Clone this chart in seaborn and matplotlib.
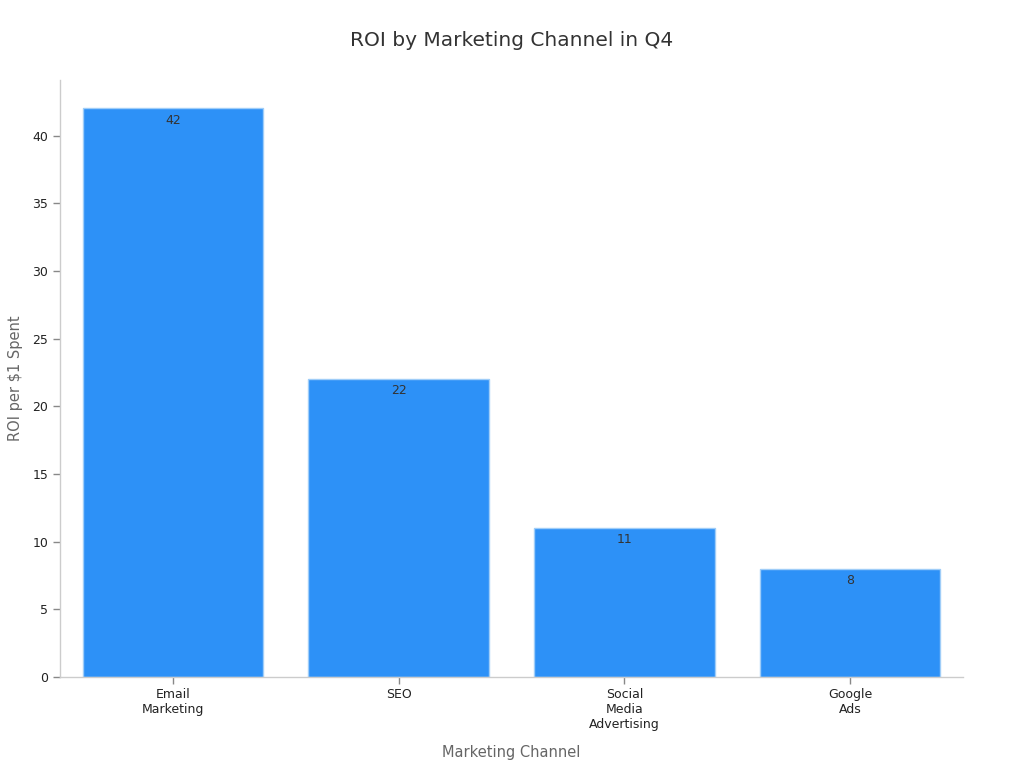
import matplotlib
matplotlib.use("Agg")
import matplotlib.pyplot as plt
import seaborn as sns
import pandas as pd

# Chart data
channels = ["Email\nMarketing", "SEO", "Social\nMedia\nAdvertising", "Google\nAds"]
roi_values = [42, 22, 11, 8]

df = pd.DataFrame({"channel": channels, "roi": roi_values})

sns.set_style("white")
plt.rcParams["font.family"] = ["DejaVu Sans"]

fig = plt.figure(figsize=(10.24, 7.68), dpi=100)
ax = fig.add_axes([0.0586, 0.1185, 0.8818, 0.7773])

sns.barplot(data=df, x="channel", y="roi", color="#2d91f7", saturation=1,
            width=0.8, edgecolor="#9fcdf8", linewidth=1, ax=ax)

# value labels just under the bar tops
for c in ax.containers:
    ax.bar_label(c, labels=[str(v) for v in roi_values], label_type="edge",
                 padding=-13, fontsize=9, color="#333333")

ax.set_xlim(-0.5, 3.5)
ax.set_ylim(0, 44.1)
ax.set_yticks(range(0, 45, 5))

for side in ["top", "right"]:
    ax.spines[side].set_visible(False)
for side in ["left", "bottom"]:
    ax.spines[side].set_color("#cccccc")
    ax.spines[side].set_linewidth(1)

ax.tick_params(axis="both", which="both", bottom=True, left=True, length=5, width=1,
               color="#888888", labelsize=9, labelcolor="#222222")
ax.tick_params(axis="x", pad=3)

ax.set_xlabel("Marketing Channel", fontsize=10.5, color="#666666", labelpad=10)
ax.set_ylabel("ROI per $1 Spent", fontsize=10.5, color="#666666", labelpad=7)

fig.suptitle("ROI by Marketing Channel in Q4", fontsize=14.5, color="#333333", y=0.96)

fig.savefig("out.png", dpi=100)
